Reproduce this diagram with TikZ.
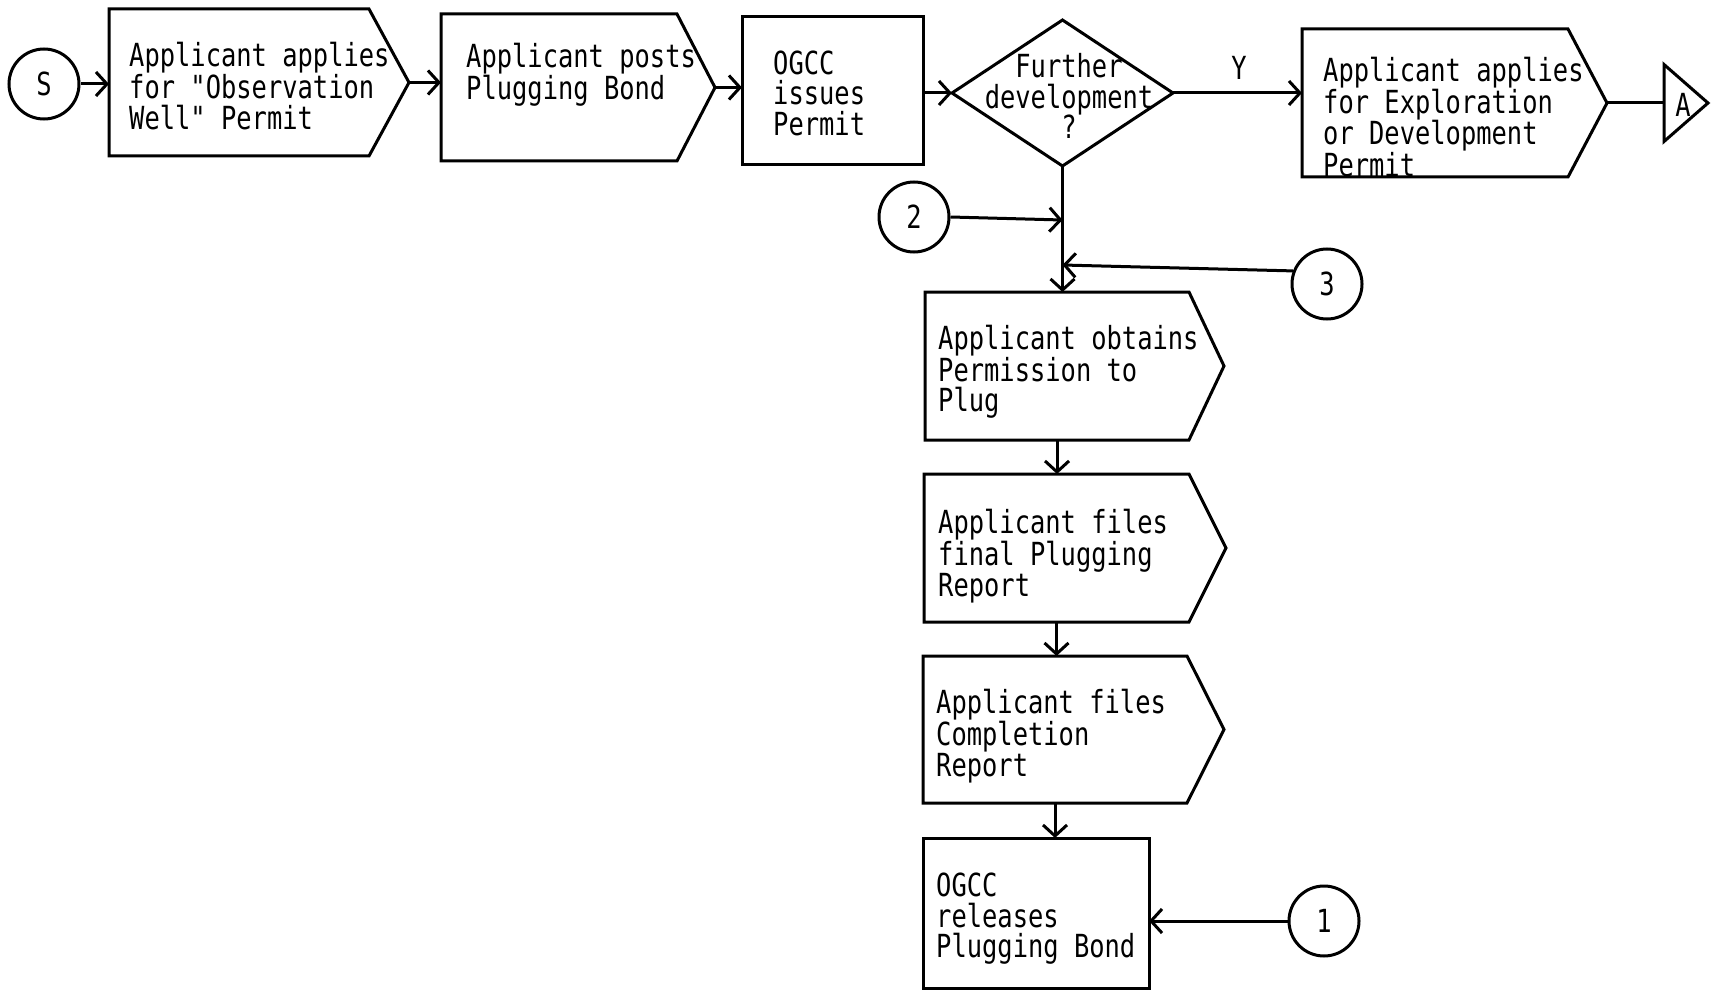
\documentclass[tikz,border=0pt]{standalone}
\usepackage{fontspec}
\setmonofont[FakeStretch=0.8]{DejaVu Sans Mono}
\usetikzlibrary{arrows.meta,calc}
\tikzset{
  ln/.style={line width=3pt, line join=miter},
  arr/.style={ln, -{Straight Barb[length=11pt,width=24pt,line width=3pt]}},
  area/.style={inner sep=0pt, outer sep=0pt},
  circ/.style={circle, draw, line width=3pt, minimum size=70pt, inner sep=0pt},
  txt/.style={align=left, inner sep=0pt},
}
\newcommand\pentpath[2]{\draw[ln] (#1.north west) -- (#1.north east) -- ($(#1.east)+(#2,0)$) coordinate (#1-tip) -- (#1.south east) -- (#1.south west) -- cycle;}
\begin{document}
\begin{tikzpicture}[x=1pt, y=-1pt, font=\ttfamily\fontsize{31.8}{30.5}\selectfont]
\useasboundingbox (0,0) rectangle (1711,995);

% start circle
\node[circ] (s) at (44,84) {S};

% box 1
\node[area, minimum width=260pt, minimum height=147pt] (b1) at (239,82.5) {};
\pentpath{b1}{40}
\node[txt, anchor=west] (t1) at (129,86) {Applicant applies\\for "Observation\\Well" Permit};

% box 2
\node[area, minimum width=236pt, minimum height=147pt] (b2) at (559,87.5) {};
\pentpath{b2}{38}
\node[txt, anchor=west] (t2) at (466,75) {Applicant posts\\Plugging Bond};

% box 3
\node[area, draw, ln, minimum width=181pt, minimum height=148pt] (b3) at (832.5,91) {};
\node[txt, anchor=west] (t3) at (773,93) {OGCC\\issues\\Permit};

% diamond
\node[area, minimum width=221pt, minimum height=146pt] (dia) at (1062.5,93) {};
\draw[ln] (dia.west) -- (dia.north) -- (dia.east) -- (dia.south) -- cycle;
\node[txt, align=center] (td) at (1069,96) {Further\\development\\?};
\node[inner sep=0pt] (y) at (1239,68) {Y};

% box 5
\node[area, minimum width=266pt, minimum height=148pt] (b5) at (1435,103) {};
\pentpath{b5}{39}
\node[txt, anchor=west] (t5) at (1323,117) {Applicant applies\\for Exploration\\or Development\\Permit};

% triangle A
\node[area, minimum width=44pt, minimum height=77pt] (tri) at (1686,103) {};
\draw[ln] (tri.north west) -- (tri.east) -- (tri.south west) -- cycle;
\node[inner sep=0pt] (ta) at (1683,105) {A};

% vertical chain
\node[area, minimum width=264pt, minimum height=148pt] (b6) at (1057,366) {};
\pentpath{b6}{35}
\node[txt, anchor=west] (t6) at (938,372) {Applicant obtains\\Permission to\\Plug};

\node[area, minimum width=265pt, minimum height=148pt] (b7) at (1056.5,548) {};
\pentpath{b7}{37}
\node[txt, anchor=west] (t7) at (938,556) {Applicant files\\final Plugging\\Report};

\node[area, minimum width=264pt, minimum height=147pt] (b8) at (1055,729.5) {};
\pentpath{b8}{37}
\node[txt, anchor=west] (t8) at (936,736) {Applicant files\\Completion\\Report};

\node[area, draw, ln, minimum width=226pt, minimum height=150pt] (b9) at (1036,913) {};
\node[txt, anchor=west] (t9) at (936,919) {OGCC\\releases\\Plugging Bond};

% connector circles
\node[circ] (c2) at (914,217) {2};
\node[circ] (c3) at (1327,284) {3};
\node[circ] (c1) at (1324,921) {1};

\coordinate (j2) at (1062.5,220);
\coordinate (j3) at (1062.5,265);

% connectors
\draw[arr] (s.east) -- (s.east -| b1.west);
\draw[arr] (b1-tip) -- (b1-tip -| b2.west);
\draw[arr] (b2-tip) -- (b2-tip -| b3.west);
\draw[arr] (b3.east |- dia.west) -- (dia.west);
\draw[arr] (dia.east) -- (dia.east -| b5.west);
\draw[ln] (b5-tip) -- (tri.west);
\draw[arr] (dia.south) -- (dia.south |- b6.north);
\draw[arr] (c2.east) -- (j2);
\draw[arr] (c3.159) -- (j3);
\draw[arr] (b6.south) -- (b6.south |- b7.north);
\draw[arr] (b7.south) -- (b7.south |- b8.north);
\draw[arr] (b8.south) -- (b8.south |- b9.north);
\draw[arr] (c1.west) -- (c1.west -| b9.east);
\end{tikzpicture}
\end{document}
